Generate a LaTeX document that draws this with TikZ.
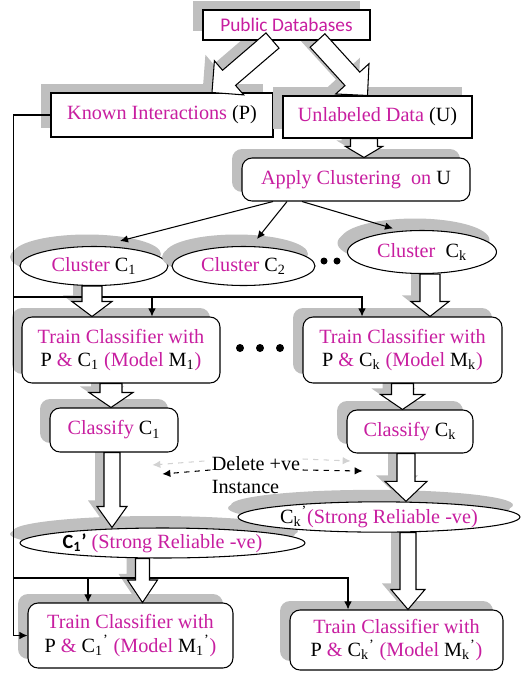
\documentclass[tikz,border=0pt]{standalone}
\usepackage{fontspec}
\setmainfont{Liberation Serif}
\newfontfamily\calibri{Carlito}
\usepackage{tikz}
\usetikzlibrary{calc,shadows,shapes.geometric,arrows.meta,backgrounds}
\definecolor{txtpink}{RGB}{200,30,160}
\newcommand{\shadecolor}{gray!50}
\newcommand{\hl}[1]{\textcolor{txtpink}{#1}}
% outline of a hollow block arrow, (fah) is the base of the head
\newcommand{\fatpath}[4]{($(#1)!#3!90:(#2)$) -- ($(fah)!#3!-90:(#1)$) -- ($(fah)!#4!-90:(#1)$) -- (#2) -- ($(fah)!#4!90:(#1)$) -- ($(fah)!#3!90:(#1)$) -- ($(#1)!#3!-90:(#2)$) -- cycle}
% from, to, half shaft, half head, head length
\newcommand{\fatarrow}[5]{%
\coordinate (fah) at ($(#2)!#5!(#1)$);
\begin{scope}[on background layer]
\fill[\shadecolor, transform canvas={xshift=-0.18cm, yshift=0.12cm}] \fatpath{#1}{#2}{#3}{#4};
\end{scope}
\filldraw[fill=white] \fatpath{#1}{#2}{#3}{#4};}

\tikzset{
  box/.style={draw, fill=white, inner sep=0pt, align=center,
    font=\fontsize{11.5}{13.5}\selectfont,
    general shadow={fill=\shadecolor, shadow xshift=-0.2cm, shadow yshift=0.18cm}},
  rbox/.style={box, rounded corners=0.2cm},
  oval/.style={box, ellipse,
    general shadow={fill=\shadecolor, shadow xshift=-0.14cm, shadow yshift=0.24cm}},
  dot/.style={circle, fill, inner sep=0pt, minimum size=#1},
  arr/.style={-{Latex[length=1.6mm,width=1.5mm]}},
  ddash/.style={arr, dashed}
}

\begin{document}
\begin{tikzpicture}[x=0.02cm, y=-0.02cm, line width=0.6pt]
\useasboundingbox (0,0) rectangle (526,673);
\node[box, font=\calibri\fontsize{11}{13}\selectfont, minimum width=3.34cm, minimum height=0.6cm] (pub) at (286.5,25) {\hl{Public Databases}};
\node[box, minimum width=4.44cm, minimum height=0.88cm] (kip) at (162,115) {\hl{Known Interactions} (P)};
\node[box, minimum width=3.78cm, minimum height=0.84cm] (unl) at (377.5,117) {\hl{Unlabeled Data} (U)};
\node[rbox, minimum width=4.56cm, minimum height=0.86cm] (apl) at (356,179.5) {\hl{Apply Clustering\ \ on} U};
%clusters
\node[oval, minimum width=2.96cm, minimum height=0.78cm] (cl1) at (94,266) {\hl{Cluster} C\textsubscript{1}};
\node[oval, minimum width=2.86cm, minimum height=0.78cm] (cl2) at (243.5,266) {\hl{Cluster} C\textsubscript{2}};
\node[oval, minimum width=2.98cm, minimum height=0.86cm] (clk) at (422,252) {\hl{Cluster}\ \ C\textsubscript{k}};
\node[dot=0.14cm] (d1) at (324,261) {};
\node[dot=0.14cm] (d2) at (337,261) {};
%train
\node[rbox, minimum width=3.96cm, minimum height=1.32cm] (t1) at (121,350) {\hl{Train Classifier with}\\P \hl{\&} C\textsubscript{1} \hl{(Model} M\textsubscript{1}\hl{)}};
\node[rbox, minimum width=3.98cm, minimum height=1.32cm] (tk) at (402.5,350) {\hl{Train Classifier with}\\P \hl{\&} C\textsubscript{k} \hl{(Model} M\textsubscript{k}\hl{)}};
\node[dot=0.16cm] (d3) at (240,348) {};
\node[dot=0.16cm] (d4) at (260,348) {};
\node[dot=0.16cm] (d5) at (280,348) {};
%classify
\node[rbox, minimum width=2.56cm, minimum height=0.88cm] (c1) at (114,430) {\hl{Classify} C\textsubscript{1}};
\node[rbox, minimum width=2.52cm, minimum height=0.86cm] (ck) at (410,431.5) {\hl{Classify} C\textsubscript{k}};
\node[align=left, inner sep=0pt, font=\fontsize{11.5}{13.5}\selectfont] (del) at (256,475) {Delete +ve\\Instance};
%reliable negatives
\node[oval, minimum width=5.7cm, minimum height=0.6cm] (c1p) at (162.5,543) {\makebox[0pt]{{\calibri\bfseries C\textsubscript{1}’} \hl{(Strong Reliable -ve)}}};
\node[oval, minimum width=5.64cm, minimum height=0.6cm] (ckp) at (379,517) {\makebox[0pt]{C\textsubscript{k}\textsuperscript{’}\hl{(Strong Reliable -ve)}}};
%final train
\node[rbox, minimum width=4.1cm, minimum height=1.3cm] (tb1) at (130.5,635.5) {\hl{Train Classifier with}\\P \hl{\&} C\textsubscript{1}\textsuperscript{’} \hl{(Model} M\textsubscript{1}\textsuperscript{’}\hl{)}};
\node[rbox, minimum width=4.26cm, minimum height=1.2cm] (tbk) at (396.5,640) {\hl{Train Classifier with}\\P \hl{\&} C\textsubscript{k}\textsuperscript{’} \hl{(Model} M\textsubscript{k}\textsuperscript{’}\hl{)}};

%thin arrows
\draw[arr] ([xshift=-1.66cm]apl.south) -- ([xshift=0.52cm,yshift=0.1cm]cl1.north);
\draw[arr] ([xshift=-1.38cm]apl.south) -- ([xshift=0.27cm,yshift=0.14cm]cl2.north);
\draw[arr] ([xshift=-1.08cm]apl.south) -- ([xshift=-0.58cm,yshift=0.03cm]clk.north);
\draw[arr] (kip.west) -- ++(-37,0) coordinate (lf) |- (tb1.west);
\coordinate (b1) at (lf |- 0,297);
\coordinate (b2) at (lf |- 0,578);
\draw[arr] (b1) -| ([xshift=0.62cm]t1.north);
\draw[arr] (b1) -| ([xshift=-0.81cm]tk.north);
\draw[arr] (b2) -| ([xshift=-0.85cm]tb1.north);
\draw[arr] (b2) -| ([xshift=-0.97cm]tbk.north);
%delete
\draw[ddash, gray!35] ([shift={(-7,-14)}]del.west) -- ++(-52,4);
\draw[ddash] ([shift={(-1,-5)}]del.west) -- ++(-48,4);
\draw[ddash, gray!35] ([shift={(2,-16)}]del.east) -- ++(48,2);
\draw[ddash] ([shift={(2,-5)}]del.east) -- ++(60,1);

%block arrows
\coordinate (p1) at ([xshift=-0.28cm]pub.south);
\coordinate (p2) at ([xshift=1cm]kip.north);
\fatarrow{p1}{p2}{0.2cm}{0.45cm}{0.45cm}
\coordinate (p3) at ([xshift=0.62cm]pub.south);
\coordinate (p4) at ([xshift=-0.2cm]unl.north);
\fatarrow{p3}{p4}{0.2cm}{0.45cm}{0.45cm}
\coordinate (p5) at ([xshift=-0.27cm]unl.south);
\coordinate (p6) at (p5 |- apl.north);
\fatarrow{p5}{p6}{0.27cm}{0.37cm}{0.22cm}
\coordinate (p7) at ([xshift=-0.04cm]cl1.south);
\coordinate (p8) at (p7 |- t1.north);
\fatarrow{p7}{p8}{0.2cm}{0.4cm}{0.3cm}
\coordinate (p9) at ([xshift=0.16cm]clk.south);
\coordinate (p10) at (p9 |- tk.north);
\fatarrow{p9}{p10}{0.2cm}{0.38cm}{0.3cm}
\coordinate (p11) at ([xshift=-0.2cm]t1.south);
\coordinate (p12) at (p11 |- c1.north);
\fatarrow{p11}{p12}{0.22cm}{0.44cm}{0.3cm}
\coordinate (p13) at (tk.south);
\coordinate (p14) at (p13 |- ck.north);
\fatarrow{p13}{p14}{0.22cm}{0.44cm}{0.3cm}
\coordinate (p15) at ([xshift=-0.04cm]c1.south);
\coordinate (p16) at (p15 |- c1p.north);
\fatarrow{p15}{p16}{0.16cm}{0.3cm}{0.42cm}
\coordinate (p17) at ([xshift=-0.08cm]ck.south);
\coordinate (p18) at (p17 |- ckp.north);
\fatarrow{p17}{p18}{0.18cm}{0.42cm}{0.4cm}
\coordinate (p19) at ([xshift=-0.4cm]c1p.south);
\coordinate (p20) at (p19 |- tb1.north);
\fatarrow{p19}{p20}{0.14cm}{0.3cm}{0.45cm}
\coordinate (p21) at ([xshift=0.58cm]ckp.south);
\coordinate (p22) at (p21 |- tbk.north);
\fatarrow{p21}{p22}{0.16cm}{0.34cm}{0.4cm}
\end{tikzpicture}
\end{document}
